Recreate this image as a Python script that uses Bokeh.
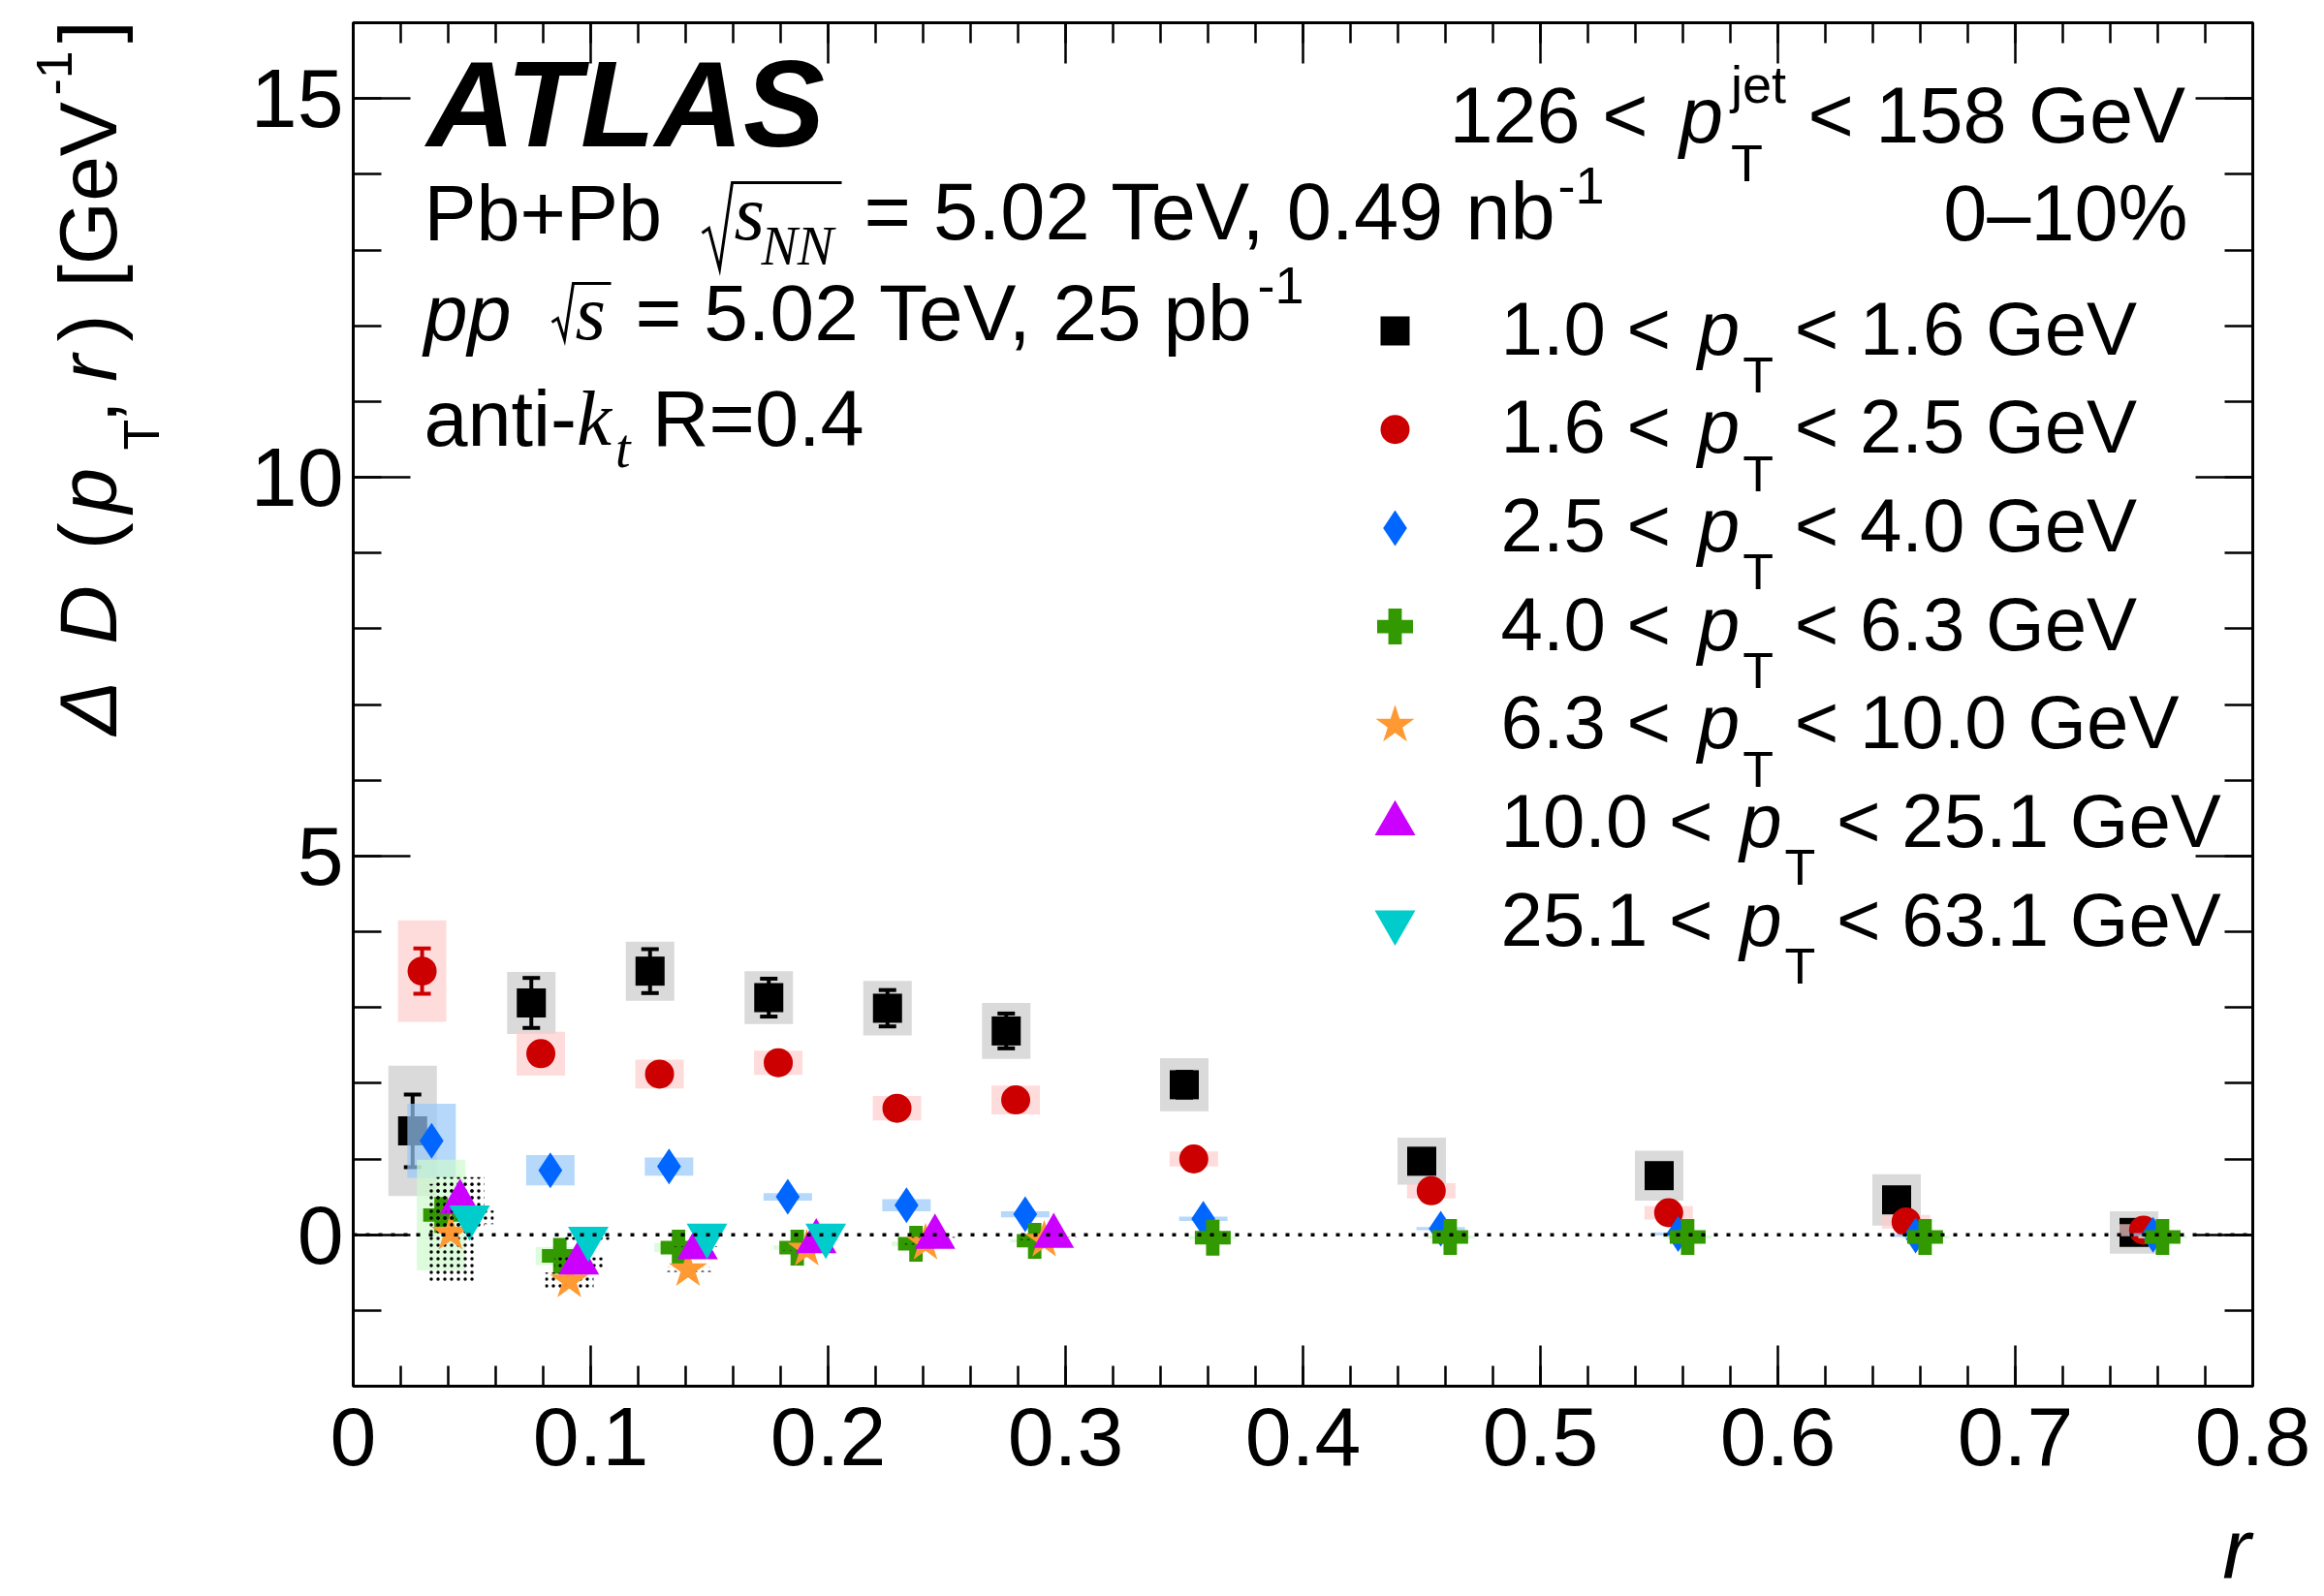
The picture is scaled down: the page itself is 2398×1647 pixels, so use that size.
from bokeh.plotting import figure
from bokeh.models import (Range1d, LinearAxis, SingleIntervalTicker, NumeralTickFormatter,
                          Label, Span, ColumnDataSource)
from bokeh.embed import file_html
from bokeh.resources import INLINE

# ---------------------------------------------------------------- data
r_bins = [0.025, 0.075, 0.125, 0.175, 0.225, 0.275, 0.35, 0.45, 0.55, 0.65, 0.75]

pt_lo = ["1.0", "1.6", "2.5", "4.0", "6.3", "10.0", "25.1"]
pt_hi = ["1.6", "2.5", "4.0", "6.3", "10.0", "25.1", "63.1"]

# Delta D(pT, r) [GeV^-1], 0-10% centrality, 126 < pT(jet) < 158 GeV
dD_1p0 = [1.37, 3.06, 3.48, 3.13, 2.99, 2.69, 1.98, 0.97, 0.78, 0.46, 0.03]
stat_1p0 = [0.48, 0.33, 0.29, 0.25, 0.24, 0.23, 0.17, 0.15, 0.13, 0.12, 0.10]
sys_1p0 = [0.86, 0.41, 0.39, 0.35, 0.36, 0.37, 0.35, 0.31, 0.33, 0.34, 0.28]

dD_1p6 = [3.48, 2.39, 2.12, 2.27, 1.67, 1.78, 1.00, 0.58, 0.29, 0.17, 0.06]
stat_1p6 = [0.30, 0.12, 0.10, 0.09, 0.08, 0.08, 0.06, 0.05, 0.04, 0.04, 0.03]
sys_1p6 = [0.67, 0.29, 0.19, 0.16, 0.16, 0.19, 0.10, 0.10, 0.09, 0.09, 0.08]

dD_2p5 = [1.24, 0.85, 0.90, 0.50, 0.39, 0.27, 0.21, 0.08, 0.01, -0.01, 0.00]
sys_2p5 = [0.49, 0.20, 0.12, 0.05, 0.08, 0.04, 0.03, 0.02, 0.02, 0.02, 0.02]

dD_4p0 = [0.26, -0.28, -0.17, -0.17, -0.12, -0.08, -0.04, -0.03, -0.03, -0.03, -0.03]
sys_4p0 = [0.73, 0.12, 0.06, 0.03, 0.03, 0.02, 0.02, 0.02, 0.02, 0.02, 0.02]

dD_6p3 = [0.02, -0.61, -0.46, -0.19, -0.11, -0.07]
sys_6p3 = [0.65, 0.11, 0.03, 0.02, 0.02, 0.01]

dD_10p0 = [0.43, -0.37, -0.17, -0.09, -0.03, -0.02]
sys_10p0 = [0.33, 0.07, 0.02, 0.02, 0.01, 0.01]

dD_25p1 = [0.23, -0.05, -0.01, -0.01]
sys_25p1 = [0.09, 0.02, 0.01, 0.01]

# ---------------------------------------------------------------- canvas geometry
W, H = 2398, 1647
FX0, FX1, FY0, FY1 = 364, 2324, 23, 1430
XR = (0.0, 0.8)
YR = (-2.0, 16.0)

SANS = "Liberation Sans"
SERIF = "Liberation Serif"


def to_x(px):
    return XR[0] + (px - FX0) / (FX1 - FX0) * (XR[1] - XR[0])


def to_y(py):
    return YR[0] + (FY1 - py) / (FY1 - FY0) * (YR[1] - YR[0])


p = figure(width=W, height=H, output_backend="svg", toolbar_location=None,
           x_range=Range1d(*XR), y_range=Range1d(*YR),
           min_border_left=FX0, min_border_right=W - FX1,
           min_border_top=FY0, min_border_bottom=H - FY1,
           background_fill_color="white", border_fill_color="white")
p.outline_line_color = "black"
p.outline_line_width = 3
p.xgrid.visible = False
p.ygrid.visible = False

xticker = SingleIntervalTicker(interval=0.1, num_minor_ticks=5)
yticker = SingleIntervalTicker(interval=5, num_minor_ticks=5)


def style_axis(ax, major_len, minor_len, show_labels):
    ax.axis_line_width = 3
    ax.major_tick_line_width = 2.5
    ax.minor_tick_line_width = 2.5
    ax.major_tick_in = major_len
    ax.major_tick_out = 0
    ax.minor_tick_in = minor_len
    ax.minor_tick_out = 0
    if show_labels:
        ax.major_label_text_font = SANS
        ax.major_label_text_font_size = "86px"
        ax.major_label_text_color = "black"
    else:
        # mirrored frame ticks only
        ax.major_label_text_color = None
        ax.major_label_text_font_size = "1px"
        ax.major_label_standoff = 0


xa = p.xaxis[0]
xa.ticker = xticker
xa.formatter = NumeralTickFormatter(format="0.[0]")
style_axis(xa, 42, 21, True)
xa.major_label_standoff = 22

ya = p.yaxis[0]
ya.ticker = yticker
style_axis(ya, 59, 29, True)
ya.major_label_standoff = 10

top_ax = LinearAxis(ticker=xticker)
style_axis(top_ax, 42, 21, False)
p.add_layout(top_ax, "above")
right_ax = LinearAxis(ticker=yticker)
style_axis(right_ax, 59, 29, False)
p.add_layout(right_ax, "right")

# ---------------------------------------------------------------- series
DODGE = 0.004      # horizontal shift between pT intervals
BOX_HW = 0.0102    # half width of the systematic boxes
BOX_ALPHA = 0.7

series = [
    # values, stat, sys, marker, size, colour, box colour, hatched
    (dD_1p0, stat_1p0, sys_1p0, "square", 30, "#000000", "#cacaca", False),
    (dD_1p6, stat_1p6, sys_1p6, "circle", 30, "#cc0000", "#ffcdcd", False),
    (dD_2p5, None, sys_2p5, "diamond", 37, "#0066ff", "#95c7f9", False),
    (dD_4p0, None, sys_4p0, "plus", 37, "#339900", "#cdfbcd", False),
    (dD_6p3, None, sys_6p3, "star", 42, "#ff9933", None, True),
    (dD_10p0, None, sys_10p0, "triangle", 42, "#cc00ff", None, True),
    (dD_25p1, None, sys_25p1, "inverted_triangle", 42, "#00cccc", None, True),
]

for k, (vals, stat, syst, marker, size, color, box_color, hatched) in enumerate(series):
    n = len(vals)
    xs = [r + k * DODGE for r in r_bins[:n]]
    src = ColumnDataSource(dict(
        x=xs, y=vals,
        left=[x - BOX_HW for x in xs], right=[x + BOX_HW for x in xs],
        bottom=[v - s for v, s in zip(vals, syst)], top=[v + s for v, s in zip(vals, syst)],
    ))
    if hatched:
        p.quad(left="left", right="right", bottom="bottom", top="top", source=src,
               fill_color=None, line_color=None,
               hatch_pattern="dot", hatch_color="black", hatch_scale=7, hatch_weight=2)
    else:
        p.quad(left="left", right="right", bottom="bottom", top="top", source=src,
               fill_color=box_color, fill_alpha=BOX_ALPHA, line_color=None)
    if stat is not None:
        lo = [v - e for v, e in zip(vals, stat)]
        hi = [v + e for v, e in zip(vals, stat)]
        p.segment(x0=xs, y0=lo, x1=xs, y1=hi, line_color=color, line_width=4)
        p.scatter(x=xs + xs, y=lo + hi, marker="dash", size=18, line_color=color, line_width=4)
    p.scatter(x="x", y="y", source=src, marker=marker, size=size,
              fill_color=color, line_color=None)

p.add_layout(Span(location=0, dimension="width", line_color="black",
                  line_width=3.5, line_dash="4 9"))

# ---------------------------------------------------------------- text helpers
SANS_W = {' ': 278, '.': 278, ',': 278, '-': 333, '–': 556, '%': 889, '(': 333, ')': 333,
          '[': 278, ']': 278, '+': 584, '<': 584, '=': 584, 'A': 667, 'D': 722, 'G': 778,
          'N': 722, 'P': 667, 'R': 722, 'S': 667, 'T': 611, 'V': 667, 'a': 556, 'b': 556,
          'e': 556, 'i': 222, 'j': 222, 'k': 500, 'n': 556, 'p': 556, 'r': 333, 's': 500,
          't': 278, 'Δ': 668}
SERIF_IT_W = {'s': 389, 'N': 667, 'k': 444, 't': 278}
BASE_SHIFT = 0.32   # alphabetic baseline correction, in em


def adv(text, size, family=SANS):
    table = SERIF_IT_W if family == SERIF else SANS_W
    return sum(table.get(c, 556) for c in text) * size / 1000.0


def pad(width_px, size):
    """Run of fixed-width space characters about width_px wide."""
    target = width_px / size
    best = None
    for d in range(8):
        for b in range(2):
            for t in range(2):
                for q in range(2):
                    for s in range(2):
                        for nb in range(4):
                            w = d + 0.5 * b + t / 3 + 0.25 * q + s / 6 + 0.278 * nb
                            err = abs(w - target)
                            if best is None or err < best[0]:
                                best = (err, (d, b, t, q, s, nb))
    d, b, t, q, s, nb = best[1]
    return ("\u2003" * d + "\u2002" * b + "\u2004" * t + "\u2005" * q
            + "\u2006" * s + "\u00a0" * nb)


def put(text, px, py, size, family=SANS, style="normal", angle=0.0, align="left", panel=None):
    if angle:
        px = px - BASE_SHIFT * size
    else:
        py = py - BASE_SHIFT * size
    lab = Label(x=to_x(px), y=to_y(py), text=text, text_font=family,
                text_font_style=style, text_font_size=f"{size}px",
                text_align=align, text_baseline="alphabetic",
                angle=angle, text_color="black")
    if panel is None:
        p.add_layout(lab)
    else:
        p.add_layout(lab, panel)


def radical(pts):
    """Square-root sign drawn as a polyline through canvas points."""
    p.line(x=[to_x(a) for a, _ in pts], y=[to_y(b) for _, b in pts],
           line_color="black", line_width=3, line_join="miter")


F, FS = 81, 54

# ATLAS block
put("ATLAS", 440, 147, 126, style="bold italic")

put("Pb+Pb", 437, 245, F)
radical([(724, 240), (731, 235), (742, 277), (755, 188), (868, 188)])
put("s", 757, 245, F, SERIF, "italic")
put("NN", 785, 271, 56, SERIF, "italic")
put("= 5.02 TeV, 0.49 nb", 891, 245, 83)
put("-1", 1607, 208, FS)

put("pp", 437, 348, F, style="italic")
radical([(569, 332), (575, 328), (582, 350), (591, 292), (630, 292)])
put("s", 593, 348, F, SERIF, "italic")
put("= 5.02 TeV, 25 pb", 655, 348, 82)
put("-1", 1297, 311, FS)

x = 437
put("anti-", x, 457, F)
x += adv("anti-", F)
put("k", x, 457, F, SERIF, "italic")
x += adv("k", F, SERIF) + 4
put("t", x, 480, 56, SERIF, "italic")
x += adv("t", 56, SERIF) + adv(" ", F)
put("R=0.4", x, 457, F)

# jet selection and centrality
x = 1495
put("126 <", x, 144, F)
x += adv("126 < ", F) + 10
put("p", x, 144, F, style="italic")
x += adv("p", F) + 8
put("jet", x, 104, FS)
put("T", x, 185, FS)
x += adv("jet", FS) + adv(" ", F)
put("< 158 GeV", x, 144, F)
put("0–10%", 2257, 245, F, align="right")

# legend
LF, LS = 78, 52
LEG_MX, LEG_TX, LEG_Y0, LEG_DY = 1439, 1548, 341, 101.7
leg_x, leg_y = [], []
for i, (lo, hi) in enumerate(zip(pt_lo, pt_hi)):
    yc = LEG_Y0 + i * LEG_DY
    base = yc + 22
    x = LEG_TX
    put(f"{lo} <", x, base, LF)
    x += adv(f"{lo} < ", LF) + 6
    put("p", x, base, LF, style="italic")
    x += adv("p", LF) + 3
    put("T", x, base + 40, LS)
    x += adv("T", LS) + adv(" ", LF)
    put(f"< {hi} GeV", x, base, LF)
    leg_x.append(to_x(LEG_MX))
    leg_y.append(to_y(yc))

for i, s in enumerate(series):
    p.scatter(x=[leg_x[i]], y=[leg_y[i]], marker=s[3], size=s[4],
              fill_color=s[5], line_color=None)

# ---------------------------------------------------------------- axis titles
# y title: one upright run and one italic run sharing the same baseline,
# the subscript in the left panel and the superscript in the right one
ROT = 1.5707963267948966
TF, TS = 84, 52
Y0 = 758   # start of the title (bottom), canvas px
ital = ("Δ" + pad(Y0 - adv("Δ", TF) - 664, TF) + "D"
        + pad(664 - adv("D", TF) - 528, TF) + "p"
        + pad(528 - adv("p", TF) - 392, TF) + "r")
upright = (pad(Y0 - 566, TF) + "("
           + pad(566 - adv("(", TF) - 436, TF) + ","
           + pad(436 - adv(",", TF) - 352, TF) + ")"
           + pad(352 - adv(")", TF) - 296, TF) + "[GeV"
           + pad(296 - adv("[GeV", TF) - 44, TF) + "]")
put(upright, 117, Y0, TF, angle=ROT, panel="left")
put(ital, 117, Y0, TF, style="italic", angle=ROT, panel="left")
put("T", 162, 464, TS, angle=ROT, panel="left")
put("-1", 72, 98, TS, angle=ROT, panel="right")

put("r", 2322, 1626, 88, style="italic", align="right", panel="below")

open("out.html", "w").write(file_html(p, INLINE))
